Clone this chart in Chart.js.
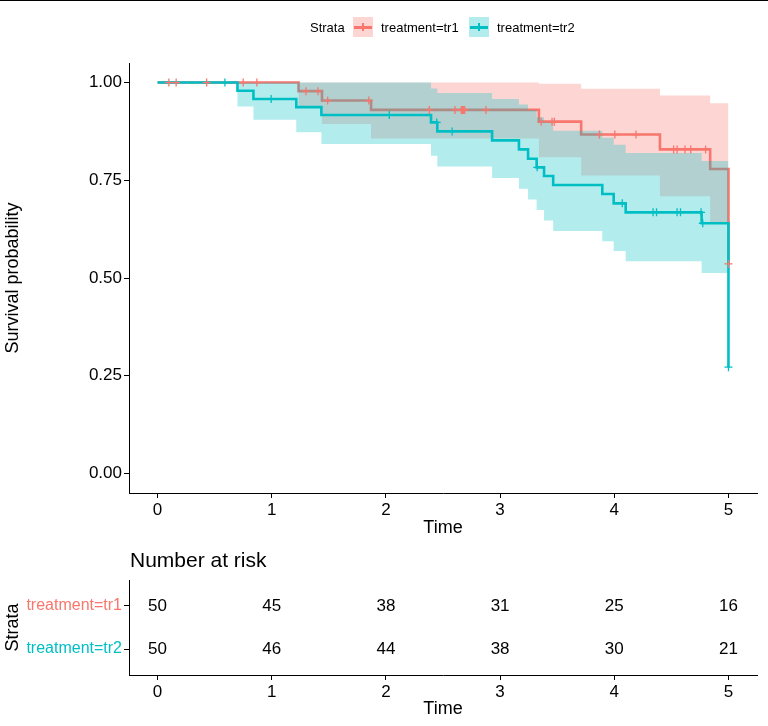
<!DOCTYPE html>
<html>
<head>
<meta charset="utf-8">
<script src="https://cdn.jsdelivr.net/npm/chart.js@4.4.0/dist/chart.umd.min.js"></script>
<style>
html,body{margin:0;padding:0;background:#fff;}
body{width:768px;height:726px;position:relative;overflow:hidden;font-family:"Liberation Sans",Arial,sans-serif;color:#000;}
#topline{position:absolute;left:0;top:0;width:768px;height:1px;background:#000;z-index:5;}
#mainWrap{position:absolute;left:0;top:0;width:768px;height:545px;}
#riskWrap{position:absolute;left:0;top:540px;width:768px;height:186px;}
.lg{position:absolute;white-space:nowrap;line-height:1;}
.key{position:absolute;top:17px;width:20px;height:20px;}
.key .ln{position:absolute;left:1px;right:1px;top:9px;height:2.5px;}
.key .tk{position:absolute;left:9.4px;top:6px;width:1.3px;height:8px;}
#riskTitle{position:absolute;left:130px;top:549px;font-size:21px;line-height:1;white-space:nowrap;}
</style>
</head>
<body>
<div id="topline"></div>
<div id="mainWrap"><canvas id="main" width="768" height="545"></canvas></div>
<div id="riskWrap"><canvas id="risk" width="768" height="186"></canvas></div>

<div class="lg" style="left:310px;top:21px;font-size:13px;">Strata</div>
<div class="key" style="left:353px;background:rgba(248,118,109,0.3);"><div class="ln" style="background:#F8766D"></div><div class="tk" style="background:#F8766D"></div></div>
<div class="lg" style="left:381px;top:21px;font-size:13px;">treatment=tr1</div>
<div class="key" style="left:469px;background:rgba(0,191,196,0.3);"><div class="ln" style="background:#00BFC4"></div><div class="tk" style="background:#00BFC4"></div></div>
<div class="lg" style="left:497px;top:21px;font-size:13px;">treatment=tr2</div>
<div id="riskTitle">Number at risk</div>

<script>
// ---------------- data ----------------
const strataLabels = ['treatment=tr1', 'treatment=tr2'];

const tr1Time  = [0, 1.235, 1.44, 1.87, 3.34, 3.71, 4.40, 4.84, 5.0];
const tr1Surv  = [1, 0.978, 0.954, 0.930, 0.900, 0.867, 0.829, 0.779, 0.536];
const tr1Upper = [1, 1, 1, 1, 0.997, 0.984, 0.967, 0.947, 0.947];
const tr1Lower = [1, 0.936, 0.894, 0.857, 0.809, 0.762, 0.709, 0.643, 0.643];
const tr1CensorTime = [0.099, 0.163, 0.43, 0.75, 0.87, 1.30, 1.405, 1.49, 1.85, 2.38, 2.605, 2.66, 2.67, 2.68, 2.69, 2.876, 3.36, 3.455, 3.475, 3.87, 4.005, 4.19, 4.52, 4.55, 4.62, 4.67, 4.80, 5.0];

const tr2Time  = [0, 0.70, 0.84, 1.215, 1.435, 2.395, 2.45, 2.93, 3.165, 3.245, 3.32, 3.385, 3.465, 3.895, 3.995, 4.10, 4.765, 5.0];
const tr2Surv  = [1, 0.979, 0.958, 0.937, 0.917, 0.898, 0.875, 0.852, 0.829, 0.805, 0.783, 0.761, 0.738, 0.715, 0.691, 0.668, 0.640, 0.272];
const tr2Upper = [1, 1, 1, 1, 1, 0.985, 0.973, 0.958, 0.944, 0.930, 0.911, 0.898, 0.877, 0.859, 0.841, 0.820, 0.799, 0.799];
const tr2Lower = [1, 0.939, 0.905, 0.873, 0.843, 0.813, 0.785, 0.756, 0.728, 0.701, 0.674, 0.647, 0.620, 0.594, 0.569, 0.543, 0.513, 0.513];
const tr2CensorTime = [0.59, 0.995, 2.03, 2.445, 2.58, 3.325, 4.07, 4.34, 4.37, 4.55, 4.58, 4.76, 4.775, 5.0];

const xTicks = [0, 1, 2, 3, 4, 5];
const yTicks = [0, 0.25, 0.5, 0.75, 1];

const riskTimes = [0, 1, 2, 3, 4, 5];
const riskTr1 = [50, 45, 38, 31, 25, 16];
const riskTr2 = [50, 46, 44, 38, 30, 21];

// ---------------- helpers ----------------
const RED = '#F8766D', TEAL = '#00BFC4';
const RED_A = 'rgba(248,118,109,0.3)', TEAL_A = 'rgba(0,191,196,0.3)';
const FONT = '"Liberation Sans", Arial, sans-serif';
const CLEAR = 'rgba(0,0,0,0)';

function pts(ts, vs) { return ts.map((t, i) => ({ x: t, y: vs[i] })); }
function survAt(ts, vs, t) { let v = vs[0]; for (let i = 0; i < ts.length; i++) { if (ts[i] <= t) v = vs[i]; } return v; }
function censorPts(ct, ts, vs) { return ct.map(t => ({ x: t, y: survAt(ts, vs, t) })); }

function bandSet(data, fillTarget, color, order) {
  return { data, stepped: true, borderColor: CLEAR, borderWidth: 0, pointRadius: 0,
           fill: fillTarget, backgroundColor: color, order };
}
function lineSet(data, color, order) {
  return { data, stepped: true, borderColor: color, borderWidth: 2.6, pointRadius: 0, fill: false, order };
}
function censorSet(data, color, order) {
  return { data, showLine: false, pointStyle: 'cross', pointRadius: 4, pointBorderWidth: 1.3,
           pointBorderColor: color, pointBackgroundColor: color, borderColor: color, order };
}

const axisGrid = { display: true, drawOnChartArea: false, drawTicks: true, tickLength: 5, color: '#000', lineWidth: 1 };
const axisBorder = { display: true, color: '#000', width: 1 };

function xScale(h) {
  return {
    type: 'linear', min: -0.25, max: 5.25,
    afterBuildTicks: s => { s.ticks = xTicks.map(v => ({ value: v })); },
    afterFit: s => { s.height = h; },
    ticks: { font: { family: FONT, size: 17 }, color: '#000', padding: 2, maxRotation: 0, callback: v => String(v) },
    grid: axisGrid, border: axisBorder,
    title: { display: true, text: 'Time', font: { family: FONT, size: 18 }, color: '#000', padding: { top: 0, bottom: 6 } }
  };
}

// ---------------- main KM chart ----------------
new Chart(document.getElementById('main'), {
  type: 'line',
  data: {
    datasets: [
      bandSet(pts(tr1Time, tr1Upper), 1, RED_A, 80),
      bandSet(pts(tr1Time, tr1Lower), false, CLEAR, 79),
      lineSet(pts(tr1Time, tr1Surv), RED, 70),
      censorSet(censorPts(tr1CensorTime, tr1Time, tr1Surv), RED, 10),
      bandSet(pts(tr2Time, tr2Upper), 5, TEAL_A, 60),
      bandSet(pts(tr2Time, tr2Lower), false, CLEAR, 59),
      lineSet(pts(tr2Time, tr2Surv), TEAL, 50),
      censorSet(censorPts(tr2CensorTime, tr2Time, tr2Surv), TEAL, 12)
    ]
  },
  options: {
    responsive: false, animation: false, events: [],
    layout: { padding: { left: 0, top: 63, right: 11, bottom: 0 } },
    plugins: { legend: { display: false }, tooltip: { enabled: false }, title: { display: false } },
    scales: {
      x: xScale(52),
      y: {
        type: 'linear', min: -0.05, max: 1.05,
        afterBuildTicks: s => { s.ticks = yTicks.map(v => ({ value: v })); },
        afterFit: s => { s.width = 129; },
        ticks: { font: { family: FONT, size: 17 }, color: '#000', padding: 2, callback: v => Number(v).toFixed(2) },
        grid: axisGrid, border: axisBorder,
        title: { display: true, text: 'Survival probability', font: { family: FONT, size: 18 }, color: '#000', padding: { top: 2, bottom: 0 } }
      }
    }
  }
});

// ---------------- risk table ----------------
const riskLabelPlugin = {
  id: 'riskLabels',
  afterDatasetsDraw(chart) {
    const ctx = chart.ctx;
    ctx.save();
    ctx.font = '17px ' + FONT;
    ctx.fillStyle = '#000';
    ctx.textAlign = 'center';
    ctx.textBaseline = 'middle';
    chart.data.datasets.forEach((ds, di) => {
      const meta = chart.getDatasetMeta(di);
      meta.data.forEach((el, i) => { ctx.fillText(String(ds.labels[i]), el.x, el.y); });
    });
    ctx.restore();
  }
};

new Chart(document.getElementById('risk'), {
  type: 'scatter',
  data: {
    datasets: [
      { data: riskTimes.map(t => ({ x: t, y: 2 })), labels: riskTr1, pointRadius: 0 },
      { data: riskTimes.map(t => ({ x: t, y: 1 })), labels: riskTr2, pointRadius: 0 }
    ]
  },
  options: {
    responsive: false, animation: false, events: [],
    layout: { padding: { left: 0, top: 40, right: 11, bottom: 0 } },
    plugins: { legend: { display: false }, tooltip: { enabled: false } },
    scales: {
      x: xScale(51),
      y: {
        type: 'linear', min: 0.4, max: 2.6,
        afterBuildTicks: s => { s.ticks = [2, 1].map(v => ({ value: v })); },
        afterFit: s => { s.width = 129; },
        ticks: {
          font: { family: FONT, size: 16 }, padding: 2,
          color: c => (c.tick && c.tick.value === 2) ? RED : TEAL,
          callback: v => v === 2 ? strataLabels[0] : strataLabels[1]
        },
        grid: axisGrid, border: axisBorder,
        title: { display: true, text: 'Strata', font: { family: FONT, size: 18 }, color: '#000', padding: { top: 2, bottom: 0 } }
      }
    }
  },
  plugins: [riskLabelPlugin]
});
</script>
</body>
</html>
